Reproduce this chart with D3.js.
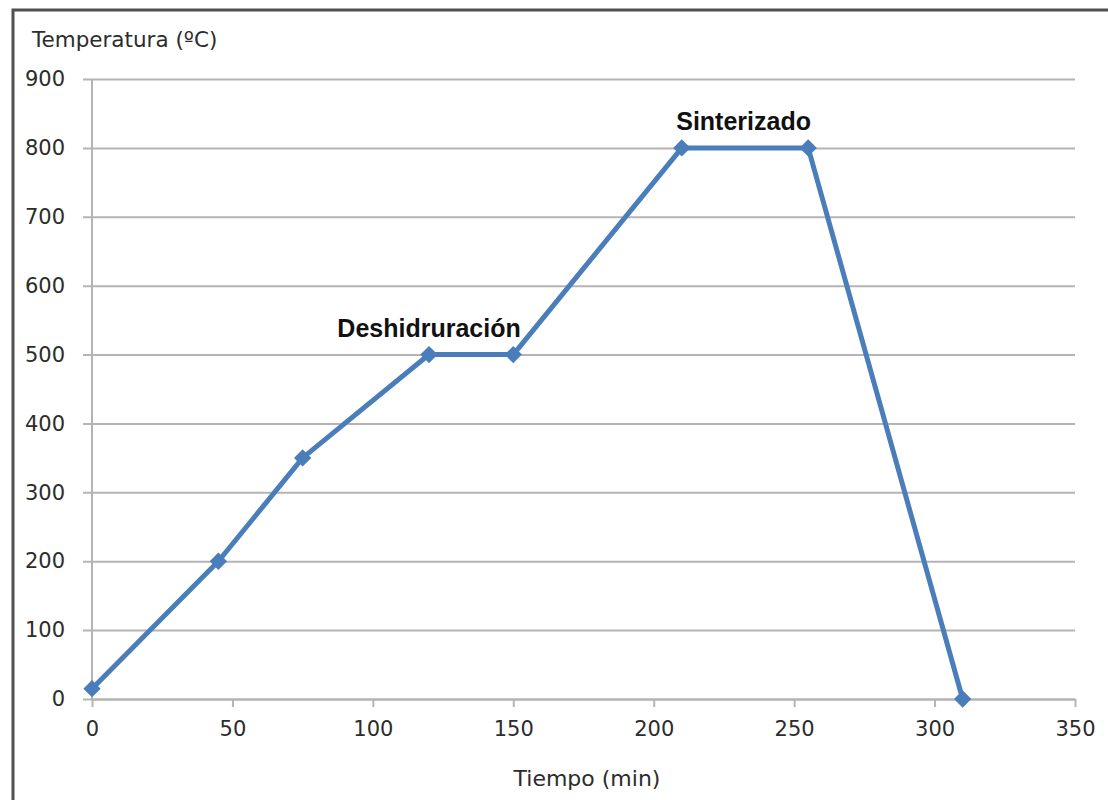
<!DOCTYPE html>
<html>
<head>
<meta charset="utf-8">
<script src="https://cdn.jsdelivr.net/npm/d3@7"></script>
<style>
  body { margin: 0; background: #fff; }
</style>
</head>
<body>
<script>
// Datos
const tiempo = [0, 45, 75, 120, 150, 210, 255, 310];
const temperatura = [15, 200, 350, 500, 500, 800, 800, 0];
const ticksX = [0, 50, 100, 150, 200, 250, 300, 350];
const ticksY = [0, 100, 200, 300, 400, 500, 600, 700, 800, 900];
const etiquetas = ["Deshidruración", "Sinterizado"];
const etiquetasX = [120, 232];
const etiquetasY = [500, 800];

const ancho = 1108, alto = 800;
const margen = { left: 92, right: 33, top: 79, bottom: 101 };

const svg = d3.select("body")
  .append("svg")
  .attr("width", ancho)
  .attr("height", alto);

// marco del gráfico (se sale por la derecha y abajo)
svg.append("rect")
  .attr("x", 13).attr("y", 10)
  .attr("width", 1200).attr("height", 900)
  .attr("fill", "none")
  .attr("stroke", "#505050")
  .attr("stroke-width", 3);

const x = d3.scaleLinear().domain([0, 350]).range([margen.left, ancho - margen.right]);
const y = d3.scaleLinear().domain([0, 900]).range([alto - margen.bottom, margen.top]);

const fuente = "'DejaVu Sans', Verdana, sans-serif";
const colorTexto = "#2c2c2c";

// rejilla horizontal + marcas del eje Y
svg.append("g")
  .attr("transform", `translate(${margen.left},0)`)
  .call(d3.axisLeft(y).tickValues(ticksY).tickSize(-(x(350) - x(0))).tickSizeOuter(0).tickPadding(27))
  .call(g => g.select(".domain").remove())
  .call(g => g.selectAll(".tick line")
    .attr("x1", -9)
    .attr("stroke", "#b4b4b4")
    .attr("stroke-width", 2))
  .call(g => g.selectAll(".tick text")
    .attr("fill", colorTexto)
    .style("font-family", fuente)
    .style("font-size", "21px"));

// línea vertical del eje Y
svg.append("line")
  .attr("x1", x(0)).attr("x2", x(0))
  .attr("y1", y(900)).attr("y2", y(0))
  .attr("stroke", "#b4b4b4")
  .attr("stroke-width", 2);

// eje X
svg.append("g")
  .attr("transform", `translate(0,${y(0)})`)
  .call(d3.axisBottom(x).tickValues(ticksX).tickSize(8).tickSizeOuter(0).tickPadding(14))
  .call(g => g.select(".domain").attr("stroke", "#b4b4b4").attr("stroke-width", 2))
  .call(g => g.selectAll(".tick line").attr("stroke", "#b4b4b4").attr("stroke-width", 2))
  .call(g => g.selectAll(".tick text")
    .attr("fill", colorTexto)
    .style("font-family", fuente)
    .style("font-size", "21px"));

// títulos de ejes
svg.append("text")
  .attr("x", 32).attr("y", 47)
  .attr("fill", colorTexto)
  .style("font-family", fuente)
  .style("font-size", "21.5px")
  .text("Temperatura (ºC)");

svg.append("text")
  .attr("x", 587).attr("y", 786)
  .attr("text-anchor", "middle")
  .attr("fill", colorTexto)
  .style("font-family", fuente)
  .style("font-size", "22px")
  .text("Tiempo (min)");

// serie
const puntos = tiempo.map((t, i) => ({ t: t, v: temperatura[i] }));

svg.append("path")
  .datum(puntos)
  .attr("fill", "none")
  .attr("stroke", "#4a7ebb")
  .attr("stroke-width", 5)
  .attr("stroke-linejoin", "round")
  .attr("d", d3.line().x(d => x(d.t)).y(d => y(d.v)));

svg.selectAll("path.marca")
  .data(puntos)
  .join("path")
  .attr("class", "marca")
  .attr("fill", "#4a7ebb")
  .attr("d", d3.symbol(d3.symbolSquare, 150))
  .attr("transform", d => `translate(${x(d.t)},${y(d.v)}) rotate(45)`);

// etiquetas de las etapas
svg.selectAll("text.etapa")
  .data(etiquetas)
  .join("text")
  .attr("class", "etapa")
  .attr("x", (d, i) => x(etiquetasX[i]))
  .attr("y", (d, i) => y(etiquetasY[i]) - 18)
  .attr("text-anchor", "middle")
  .attr("fill", "#111")
  .style("font-family", "'Liberation Sans', Arial, sans-serif")
  .style("font-weight", "bold")
  .style("font-size", "25px")
  .text(d => d);
</script>
</body>
</html>
